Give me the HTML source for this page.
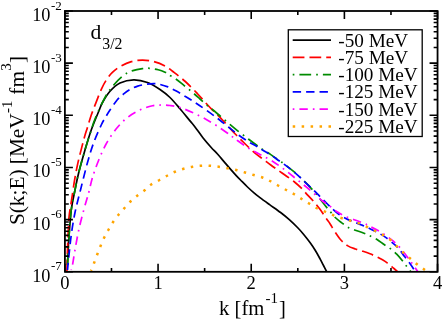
<!DOCTYPE html>
<html><head><meta charset="utf-8"><title>plot</title>
<style>
html,body{margin:0;padding:0;background:#fff;}
body{width:443px;height:320px;overflow:hidden;font-family:"Liberation Serif",serif;}
svg{display:block;will-change:transform;}
text{font-family:"Liberation Serif",serif;fill:#000;}
</style></head><body>
<svg width="443" height="320" viewBox="0 0 443 320">
<rect x="0" y="0" width="443" height="320" fill="#fff"/>
<defs><clipPath id="cp"><rect x="64.90" y="11.00" width="372.65" height="260.80"/></clipPath></defs>
<g clip-path="url(#cp)" fill="none" stroke-width="1.70" stroke-linejoin="round">
<path d="M67.50 265.00C67.71 260.83 68.12 249.17 68.75 240.00C69.38 230.83 70.21 218.33 71.25 210.00C72.29 201.67 73.75 196.25 75.00 190.00C76.25 183.75 77.08 179.17 78.75 172.50C80.42 165.83 82.92 157.08 85.00 150.00C87.08 142.92 88.96 136.46 91.25 130.00C93.54 123.54 96.88 115.83 98.75 111.25C100.62 106.67 100.62 105.83 102.50 102.50C104.38 99.17 107.08 94.50 110.00 91.25C112.92 88.00 116.04 84.91 120.00 83.00C123.96 81.09 129.17 79.88 133.75 79.80C138.33 79.72 143.12 80.88 147.50 82.50C151.88 84.12 156.25 87.00 160.00 89.50C163.75 92.00 166.67 94.29 170.00 97.50C173.33 100.71 176.67 104.85 180.00 108.75C183.33 112.65 187.50 117.88 190.00 120.90C192.50 123.93 192.85 124.10 195.00 126.90C197.15 129.70 200.23 134.32 202.90 137.70C205.57 141.08 208.57 144.48 211.00 147.20C213.43 149.92 215.33 151.60 217.50 154.00C219.67 156.40 221.92 159.17 224.00 161.60C226.08 164.03 228.00 166.32 230.00 168.60C232.00 170.88 234.17 173.32 236.00 175.30C237.83 177.28 239.08 178.55 241.00 180.50C242.92 182.45 245.33 184.93 247.50 187.00C249.67 189.07 251.92 191.13 254.00 192.90C256.08 194.67 257.40 195.65 260.00 197.60C262.60 199.55 266.17 202.12 269.60 204.60C273.03 207.08 277.32 210.00 280.60 212.50C283.88 215.00 286.48 217.10 289.30 219.60C292.12 222.10 295.13 225.07 297.50 227.50C299.87 229.93 301.42 231.70 303.50 234.20C305.58 236.70 308.00 239.75 310.00 242.50C312.00 245.25 313.80 247.93 315.50 250.70C317.20 253.47 318.87 256.63 320.20 259.10C321.53 261.57 322.47 263.48 323.50 265.50C324.53 267.52 325.77 269.95 326.40 271.20C327.03 272.45 327.15 272.70 327.30 273.00" stroke="#000000"/>
<path d="M66.90 273.00C66.97 270.00 67.07 262.17 67.30 255.00C67.53 247.83 68.00 236.45 68.30 230.00C68.60 223.55 68.57 221.22 69.10 216.30C69.63 211.38 70.58 206.55 71.50 200.50C72.42 194.45 73.55 186.18 74.60 180.00C75.65 173.82 76.62 168.80 77.80 163.40C78.98 158.00 80.58 152.00 81.70 147.60C82.82 143.20 83.57 140.28 84.50 137.00C85.43 133.72 86.18 131.52 87.30 127.90C88.42 124.28 89.75 119.52 91.20 115.30C92.65 111.08 94.32 106.93 96.00 102.60C97.68 98.27 99.62 93.02 101.30 89.30C102.98 85.58 104.25 83.13 106.10 80.30C107.95 77.47 109.90 74.70 112.40 72.30C114.90 69.90 117.95 67.68 121.10 65.90C124.25 64.12 127.75 62.57 131.30 61.60C134.85 60.63 138.70 60.12 142.40 60.10C146.10 60.08 149.73 60.53 153.50 61.50C157.27 62.47 161.83 64.28 165.00 65.90C168.17 67.53 169.17 68.69 172.50 71.25C175.83 73.81 180.83 77.50 185.00 81.25C189.17 85.00 193.33 89.38 197.50 93.75C201.67 98.12 205.83 103.12 210.00 107.50C214.17 111.88 218.33 115.62 222.50 120.00C226.67 124.38 231.25 129.79 235.00 133.75C238.75 137.71 241.67 140.51 245.00 143.75C248.33 146.99 252.02 150.66 255.00 153.20C257.98 155.74 260.27 157.03 262.90 159.00C265.53 160.97 268.17 163.07 270.80 165.00C273.43 166.93 276.07 168.73 278.70 170.60C281.33 172.47 283.97 174.30 286.60 176.20C289.23 178.10 292.08 180.05 294.50 182.00C296.92 183.95 298.95 185.77 301.10 187.90C303.25 190.03 305.30 192.53 307.40 194.80C309.50 197.07 311.60 199.08 313.70 201.50C315.80 203.92 317.90 206.45 320.00 209.30C322.10 212.15 324.63 216.20 326.30 218.60C327.97 221.00 328.60 221.57 330.00 223.70C331.40 225.83 332.85 228.65 334.70 231.40C336.55 234.15 338.98 237.83 341.10 240.20C343.22 242.57 345.03 244.13 347.40 245.60C349.77 247.07 352.70 248.05 355.30 249.00C357.90 249.95 360.55 250.50 363.00 251.30C365.45 252.10 367.55 252.82 370.00 253.80C372.45 254.78 375.62 256.20 377.70 257.20C379.78 258.20 380.92 258.85 382.50 259.80C384.08 260.75 385.62 261.72 387.20 262.90C388.78 264.08 390.42 265.58 392.00 266.90C393.58 268.22 395.53 269.78 396.70 270.80C397.87 271.82 398.62 272.63 399.00 273.00" stroke="#ff0000" stroke-dasharray="11.74 5.033" stroke-dashoffset="14.92"/>
<path d="M67.50 265.00C67.71 260.83 68.12 249.17 68.75 240.00C69.38 230.83 70.21 218.33 71.25 210.00C72.29 201.67 73.75 196.25 75.00 190.00C76.25 183.75 77.08 179.17 78.75 172.50C80.42 165.83 82.92 157.08 85.00 150.00C87.08 142.92 89.58 135.17 91.25 130.00C92.92 124.83 92.71 124.42 95.00 119.00C97.29 113.58 101.88 103.17 105.00 97.50C108.12 91.83 110.68 88.68 113.75 85.00C116.82 81.32 120.21 77.80 123.40 75.40C126.59 73.00 129.73 71.73 132.90 70.60C136.07 69.47 139.63 68.98 142.40 68.60C145.17 68.22 146.87 68.10 149.50 68.30C152.13 68.50 155.62 69.15 158.20 69.80C160.78 70.45 163.38 71.47 165.00 72.20C166.62 72.93 166.10 73.07 167.90 74.20C169.70 75.33 173.17 77.17 175.80 79.00C178.43 80.83 181.07 83.10 183.70 85.20C186.33 87.30 188.97 89.38 191.60 91.60C194.23 93.82 196.87 96.17 199.50 98.50C202.13 100.83 205.25 103.77 207.40 105.60C209.55 107.43 210.25 107.73 212.40 109.50C214.55 111.27 217.40 113.73 220.30 116.20C223.20 118.67 226.90 121.87 229.80 124.30C232.70 126.73 234.55 128.30 237.70 130.80C240.85 133.30 245.42 136.80 248.70 139.30C251.98 141.80 255.03 144.08 257.40 145.80C259.77 147.52 260.67 148.13 262.90 149.60C265.13 151.07 268.17 152.85 270.80 154.60C273.43 156.35 276.07 158.23 278.70 160.10C281.33 161.97 283.97 163.78 286.60 165.80C289.23 167.82 291.87 169.92 294.50 172.20C297.13 174.48 299.73 176.93 302.40 179.50C305.07 182.07 307.83 184.72 310.50 187.60C313.17 190.48 315.77 193.58 318.40 196.80C321.03 200.02 324.18 204.27 326.30 206.90C328.42 209.53 329.70 210.92 331.10 212.60C332.50 214.28 333.30 215.57 334.70 217.00C336.10 218.43 338.05 220.03 339.50 221.20C340.95 222.37 341.95 222.97 343.40 224.00C344.85 225.03 346.22 226.37 348.20 227.40C350.18 228.43 352.67 229.23 355.30 230.20C357.93 231.17 361.50 232.23 364.00 233.20C366.50 234.17 368.07 234.92 370.30 236.00C372.53 237.08 375.10 238.28 377.40 239.70C379.70 241.12 381.93 243.00 384.10 244.50C386.27 246.00 388.30 247.08 390.40 248.70C392.50 250.32 394.73 252.23 396.70 254.20C398.67 256.17 400.62 258.57 402.20 260.50C403.78 262.43 404.88 264.08 406.20 265.80C407.52 267.52 409.22 269.60 410.10 270.80C410.98 272.00 411.27 272.63 411.50 273.00" stroke="#008b00" stroke-dasharray="1.677 5.03 11.74 5.03" stroke-dashoffset="6.64"/>
<path d="M67.50 270.00C67.71 267.92 68.12 263.33 68.75 257.50C69.38 251.67 70.21 242.50 71.25 235.00C72.29 227.50 73.46 220.00 75.00 212.50C76.54 205.00 78.42 198.33 80.50 190.00C82.58 181.67 85.29 170.42 87.50 162.50C89.71 154.58 91.46 148.75 93.75 142.50C96.04 136.25 99.17 129.42 101.25 125.00C103.33 120.58 104.79 118.50 106.25 116.00C107.71 113.50 108.19 112.67 110.00 110.00C111.81 107.33 114.87 102.63 117.10 100.00C119.33 97.37 121.28 95.93 123.40 94.20C125.52 92.47 127.42 90.95 129.80 89.60C132.18 88.25 134.82 87.02 137.70 86.10C140.58 85.18 144.22 84.50 147.10 84.10C149.98 83.70 152.85 83.65 155.00 83.70C157.15 83.75 157.85 83.87 160.00 84.40C162.15 84.93 165.27 85.83 167.90 86.90C170.53 87.97 173.17 89.37 175.80 90.80C178.43 92.23 181.07 93.92 183.70 95.50C186.33 97.08 188.97 98.63 191.60 100.30C194.23 101.97 196.30 103.32 199.50 105.50C202.70 107.68 207.33 110.90 210.80 113.40C214.27 115.90 217.13 118.03 220.30 120.50C223.47 122.97 226.65 125.70 229.80 128.20C232.95 130.70 236.05 133.22 239.20 135.50C242.35 137.78 245.80 140.10 248.70 141.90C251.60 143.70 254.23 144.90 256.60 146.30C258.97 147.70 260.53 148.85 262.90 150.30C265.27 151.75 268.17 153.30 270.80 155.00C273.43 156.70 276.07 158.65 278.70 160.50C281.33 162.35 283.97 164.12 286.60 166.10C289.23 168.08 291.87 170.17 294.50 172.40C297.13 174.63 300.78 178.00 302.40 179.50C304.02 181.00 302.58 179.87 304.20 181.40C305.82 182.93 309.47 186.17 312.10 188.70C314.73 191.23 317.37 193.97 320.00 196.60C322.63 199.23 325.97 202.60 327.90 204.50C329.83 206.40 329.93 206.50 331.60 208.00C333.27 209.50 335.53 211.77 337.90 213.50C340.27 215.23 343.17 217.02 345.80 218.40C348.43 219.78 351.07 220.70 353.70 221.80C356.33 222.90 358.97 223.90 361.60 225.00C364.23 226.10 366.87 227.17 369.50 228.40C372.13 229.63 374.77 230.95 377.40 232.40C380.03 233.85 382.67 235.27 385.30 237.10C387.93 238.93 390.97 241.50 393.20 243.40C395.43 245.30 396.80 246.30 398.70 248.50C400.60 250.70 402.70 254.07 404.60 256.60C406.50 259.13 408.48 261.47 410.10 263.70C411.72 265.93 413.32 268.45 414.30 270.00C415.28 271.55 415.72 272.50 416.00 273.00" stroke="#0000ff" stroke-dasharray="8.385 5.031" stroke-dashoffset="0.89"/>
<path d="M71.25 270.00C71.46 269.17 71.88 268.33 72.50 265.00C73.12 261.67 73.96 255.83 75.00 250.00C76.04 244.17 77.29 236.67 78.75 230.00C80.21 223.33 82.08 216.25 83.75 210.00C85.42 203.75 87.29 197.92 88.75 192.50C90.21 187.08 90.83 182.92 92.50 177.50C94.17 172.08 96.46 165.62 98.75 160.00C101.04 154.38 103.33 148.96 106.25 143.75C109.17 138.54 112.71 133.12 116.25 128.75C119.79 124.38 123.54 120.62 127.50 117.50C131.46 114.38 135.83 111.96 140.00 110.00C144.17 108.04 148.75 106.58 152.50 105.75C156.25 104.92 159.58 105.04 162.50 105.00C165.42 104.96 167.08 105.08 170.00 105.50C172.92 105.92 176.25 106.33 180.00 107.50C183.75 108.67 188.33 110.62 192.50 112.50C196.67 114.38 200.83 116.46 205.00 118.75C209.17 121.04 213.33 123.54 217.50 126.25C221.67 128.96 227.08 132.92 230.00 135.00C232.92 137.08 232.08 136.67 235.00 138.75C237.92 140.83 243.33 144.88 247.50 147.50C251.67 150.12 255.83 152.21 260.00 154.50C264.17 156.79 268.33 158.67 272.50 161.25C276.67 163.83 280.83 166.88 285.00 170.00C289.17 173.12 293.33 176.67 297.50 180.00C301.67 183.33 305.83 186.50 310.00 190.00C314.17 193.50 319.17 198.29 322.50 201.00C325.83 203.71 327.50 204.42 330.00 206.25C332.50 208.08 335.00 210.33 337.50 212.00C340.00 213.67 342.08 214.92 345.00 216.25C347.92 217.58 351.67 218.75 355.00 220.00C358.33 221.25 362.83 222.83 365.00 223.75C367.17 224.67 365.83 224.38 368.00 225.50C370.17 226.62 374.67 228.58 378.00 230.50C381.33 232.42 385.08 234.92 388.00 237.00C390.92 239.08 393.00 240.62 395.50 243.00C398.00 245.38 400.30 247.93 403.00 251.25C405.70 254.57 409.33 259.64 411.70 262.90C414.07 266.16 416.07 269.12 417.20 270.80C418.33 272.48 418.28 272.63 418.50 273.00" stroke="#ff00ff" stroke-dasharray="1.677 5.03 8.385 5.03" stroke-dashoffset="1.14"/>
<path d="M90.95 270.80C91.50 269.42 93.16 265.34 94.25 262.50C95.34 259.66 96.42 256.58 97.50 253.75C98.58 250.92 99.58 248.29 100.75 245.50C101.92 242.71 103.17 239.71 104.50 237.00C105.83 234.29 107.29 231.79 108.75 229.25C110.21 226.71 111.58 224.21 113.25 221.75C114.92 219.29 116.88 216.79 118.75 214.50C120.62 212.21 122.50 210.21 124.50 208.00C126.50 205.79 128.58 203.33 130.75 201.25C132.92 199.17 135.12 197.38 137.50 195.50C139.88 193.62 142.71 191.83 145.00 190.00C147.29 188.17 148.83 186.17 151.25 184.50C153.67 182.83 156.79 181.50 159.50 180.00C162.21 178.50 164.92 176.88 167.50 175.50C170.08 174.12 172.29 172.88 175.00 171.75C177.71 170.62 180.83 169.58 183.75 168.75C186.67 167.92 189.58 167.25 192.50 166.75C195.42 166.25 198.33 165.92 201.25 165.75C204.17 165.58 207.08 165.58 210.00 165.75C212.92 165.92 215.83 166.33 218.75 166.75C221.67 167.17 224.58 167.71 227.50 168.25C230.42 168.79 233.33 169.29 236.25 170.00C239.17 170.71 242.08 171.67 245.00 172.50C247.92 173.33 250.83 174.17 253.75 175.00C256.67 175.83 259.79 176.50 262.50 177.50C265.21 178.50 267.42 179.67 270.00 181.00C272.58 182.33 275.29 184.00 278.00 185.50C280.71 187.00 283.54 188.54 286.25 190.00C288.96 191.46 291.67 192.75 294.25 194.25C296.83 195.75 299.21 197.42 301.75 199.00C304.29 200.58 306.96 202.21 309.50 203.75C312.04 205.29 314.42 206.94 317.00 208.25C319.58 209.56 322.25 210.42 325.00 211.60C327.75 212.78 330.67 214.20 333.50 215.30C336.33 216.40 339.15 217.30 342.00 218.20C344.85 219.10 347.73 219.83 350.60 220.70C353.47 221.57 356.47 222.35 359.20 223.40C361.93 224.45 364.41 225.78 367.00 227.00C369.59 228.22 372.08 229.42 374.75 230.75C377.42 232.08 380.38 233.46 383.00 235.00C385.62 236.54 388.12 238.04 390.50 240.00C392.88 241.96 395.04 244.58 397.25 246.75C399.46 248.92 401.54 251.00 403.75 253.00C405.96 255.00 408.25 256.83 410.50 258.75C412.75 260.67 414.96 262.71 417.25 264.50C419.54 266.29 421.96 267.87 424.25 269.50C426.54 271.13 429.88 273.50 431.00 274.30" stroke="#ffa500" stroke-dasharray="2.5 6.45" stroke-width="2.5" stroke-dashoffset="1.25"/>
</g>
<path d="M64.90 271.80v-8.00M64.90 11.00v8.00M111.48 271.80v-3.90M111.48 11.00v3.90M158.06 271.80v-8.00M158.06 11.00v8.00M204.64 271.80v-3.90M204.64 11.00v3.90M251.22 271.80v-8.00M251.22 11.00v8.00M297.81 271.80v-3.90M297.81 11.00v3.90M344.39 271.80v-8.00M344.39 11.00v8.00M390.97 271.80v-3.90M390.97 11.00v3.90M437.55 271.80v-8.00M437.55 11.00v8.00M64.90 11.00h8.00M437.55 11.00h-8.00M64.90 47.46h3.90M437.55 47.46h-3.90M64.90 38.27h3.90M437.55 38.27h-3.90M64.90 31.76h3.90M437.55 31.76h-3.90M64.90 26.70h3.90M437.55 26.70h-3.90M64.90 22.57h3.90M437.55 22.57h-3.90M64.90 19.08h3.90M437.55 19.08h-3.90M64.90 16.05h3.90M437.55 16.05h-3.90M64.90 13.39h3.90M437.55 13.39h-3.90M64.90 63.16h8.00M437.55 63.16h-8.00M64.90 99.62h3.90M437.55 99.62h-3.90M64.90 90.43h3.90M437.55 90.43h-3.90M64.90 83.92h3.90M437.55 83.92h-3.90M64.90 78.86h3.90M437.55 78.86h-3.90M64.90 74.73h3.90M437.55 74.73h-3.90M64.90 71.24h3.90M437.55 71.24h-3.90M64.90 68.21h3.90M437.55 68.21h-3.90M64.90 65.55h3.90M437.55 65.55h-3.90M64.90 115.32h8.00M437.55 115.32h-8.00M64.90 151.78h3.90M437.55 151.78h-3.90M64.90 142.59h3.90M437.55 142.59h-3.90M64.90 136.08h3.90M437.55 136.08h-3.90M64.90 131.02h3.90M437.55 131.02h-3.90M64.90 126.89h3.90M437.55 126.89h-3.90M64.90 123.40h3.90M437.55 123.40h-3.90M64.90 120.37h3.90M437.55 120.37h-3.90M64.90 117.71h3.90M437.55 117.71h-3.90M64.90 167.48h8.00M437.55 167.48h-8.00M64.90 203.94h3.90M437.55 203.94h-3.90M64.90 194.75h3.90M437.55 194.75h-3.90M64.90 188.24h3.90M437.55 188.24h-3.90M64.90 183.18h3.90M437.55 183.18h-3.90M64.90 179.05h3.90M437.55 179.05h-3.90M64.90 175.56h3.90M437.55 175.56h-3.90M64.90 172.53h3.90M437.55 172.53h-3.90M64.90 169.87h3.90M437.55 169.87h-3.90M64.90 219.64h8.00M437.55 219.64h-8.00M64.90 256.10h3.90M437.55 256.10h-3.90M64.90 246.91h3.90M437.55 246.91h-3.90M64.90 240.40h3.90M437.55 240.40h-3.90M64.90 235.34h3.90M437.55 235.34h-3.90M64.90 231.21h3.90M437.55 231.21h-3.90M64.90 227.72h3.90M437.55 227.72h-3.90M64.90 224.69h3.90M437.55 224.69h-3.90M64.90 222.03h3.90M437.55 222.03h-3.90M64.90 271.80h8.00M437.55 271.80h-8.00" stroke="#000" stroke-width="1.6" fill="none"/>
<rect x="64.90" y="11.00" width="372.65" height="260.80" fill="none" stroke="#000" stroke-width="1.8"/>
<text x="64.90" y="288.9" font-size="18.5" text-anchor="middle">0</text>
<text x="158.06" y="288.9" font-size="18.5" text-anchor="middle">1</text>
<text x="251.22" y="288.9" font-size="18.5" text-anchor="middle">2</text>
<text x="344.39" y="288.9" font-size="18.5" text-anchor="middle">3</text>
<text x="437.55" y="288.9" font-size="18.5" text-anchor="middle">4</text>
<text x="50.5" y="20.90" font-size="18.3" text-anchor="end">10</text>
<text x="51" y="9.50" font-size="13">-2</text>
<text x="50.5" y="73.06" font-size="18.3" text-anchor="end">10</text>
<text x="51" y="61.66" font-size="13">-3</text>
<text x="50.5" y="125.22" font-size="18.3" text-anchor="end">10</text>
<text x="51" y="113.82" font-size="13">-4</text>
<text x="50.5" y="177.38" font-size="18.3" text-anchor="end">10</text>
<text x="51" y="165.98" font-size="13">-5</text>
<text x="50.5" y="229.54" font-size="18.3" text-anchor="end">10</text>
<text x="51" y="218.14" font-size="13">-6</text>
<text x="50.5" y="281.70" font-size="18.3" text-anchor="end">10</text>
<text x="51" y="270.30" font-size="13">-7</text>
<text x="219.0" y="314.5" font-size="20.7">k [fm</text>
<text x="265.6" y="302.6" font-size="15">-1</text>
<text x="279" y="314.5" font-size="20.5">]</text>
<g transform="rotate(-90)"><text x="-225.1" y="23.9" font-size="21.3">S(k;E) [MeV</text><text x="-113.1" y="11.5" font-size="15">-1</text><text x="-94.7" y="23.9" font-size="21.3">fm</text><text x="-70.8" y="11.1" font-size="15">3</text><text x="-62.9" y="23.9" font-size="21.3">]</text></g>
<text x="90.6" y="38.5" font-size="21.6">d</text>
<text x="102.3" y="48.7" font-size="15.8">3/2</text>
<rect x="288.30" y="29.80" width="133.90" height="106.70" fill="#fff" stroke="#000" stroke-width="1.3"/>
<path d="M292.7 40.20H331" stroke="#000000" stroke-width="1.70" fill="none"/>
<text x="338.3" y="46.70" font-size="19.2">-50 MeV</text>
<path d="M292.7 57.40H331" stroke="#ff0000" stroke-width="1.70" fill="none" stroke-dasharray="11.74 5.033"/>
<text x="338.3" y="63.90" font-size="19.2">-75 MeV</text>
<path d="M292.7 74.70H331" stroke="#008b00" stroke-width="1.70" fill="none" stroke-dasharray="1.677 5.03 11.74 5.03"/>
<text x="338.3" y="81.20" font-size="19.2">-100 MeV</text>
<path d="M292.7 91.90H331" stroke="#0000ff" stroke-width="1.70" fill="none" stroke-dasharray="8.385 5.031"/>
<text x="338.3" y="98.40" font-size="19.2">-125 MeV</text>
<path d="M292.7 109.20H331" stroke="#ff00ff" stroke-width="1.70" fill="none" stroke-dasharray="1.677 5.03 8.385 5.03"/>
<text x="338.3" y="115.70" font-size="19.2">-150 MeV</text>
<path d="M292.7 126.40H331" stroke="#ffa500" stroke-width="2.5" fill="none" stroke-dasharray="2.5 6.45"/>
<text x="338.3" y="132.90" font-size="19.2">-225 MeV</text>
</svg>
</body></html>
